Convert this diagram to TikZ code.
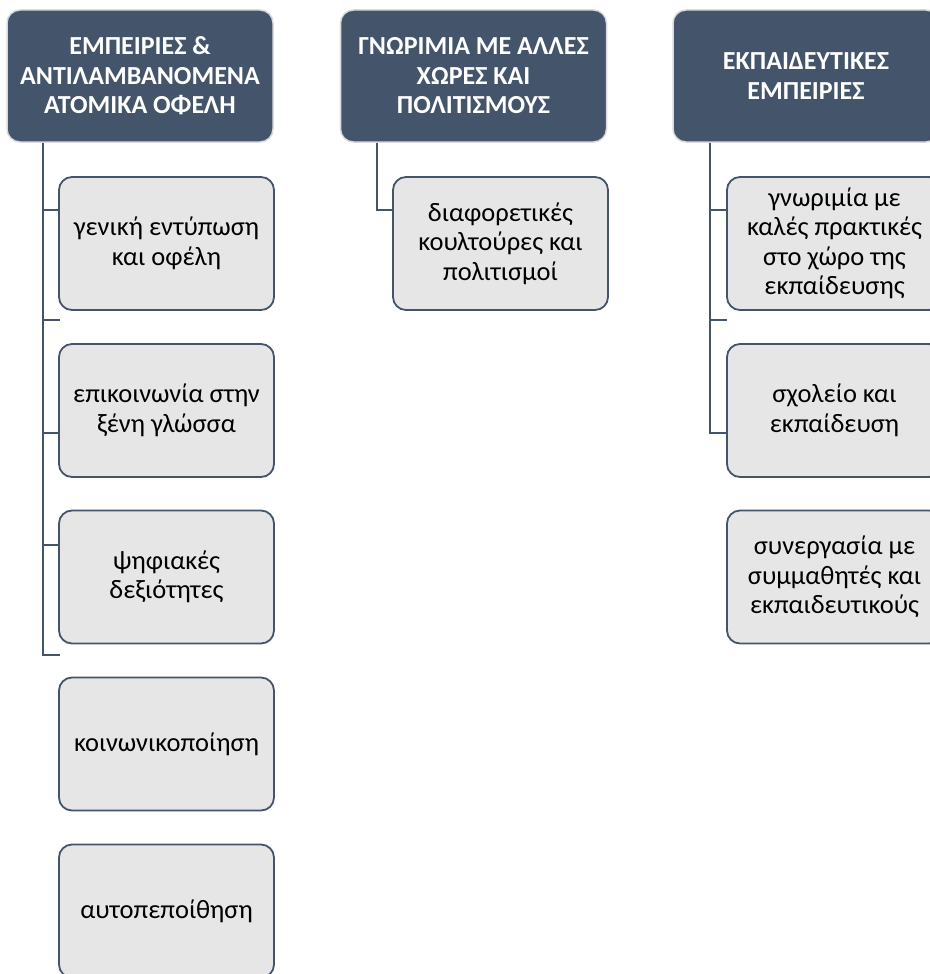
\documentclass[tikz,border=0pt]{standalone}
\usepackage{fontspec}
\setmainfont{Carlito}
\usetikzlibrary{positioning}

\definecolor{schiefer}{HTML}{44546A}
\definecolor{hellgrau}{HTML}{E7E6E6}
\definecolor{randgrau}{HTML}{DADADA}

\tikzset{
	kopf/.style={rectangle, rounded corners=13pt, fill=schiefer, draw=randgrau, line width=1.5pt,
		text=white, font=\fontsize{26}{29.5}\selectfont\bfseries, align=center,
		minimum width=266pt, minimum height=132pt, inner sep=0pt},
	eintrag/.style={rectangle, rounded corners=13pt, fill=hellgrau, draw=schiefer, line width=1.8pt,
		font=\fontsize{26.5}{29.5}\selectfont, align=center,
		minimum width=215pt, minimum height=133pt, inner sep=0pt},
	verbinder/.style={draw=schiefer, line width=2.6pt}
}

\begin{document}
\begin{tikzpicture}[x=1pt,y=-1pt]
	\useasboundingbox (0,0) rectangle (929,974);
	
	% Kopfzeilen der drei Spalten
	\node[kopf] (k1) at (140,76) {ΕΜΠΕΙΡΙΕΣ \&\\ΑΝΤΙΛΑΜΒΑΝΟΜΕΝΑ\\ΑΤΟΜΙΚΑ ΟΦΕΛΗ};
	\node[kopf] (k2) at (473.5,76) {ΓΝΩΡΙΜΙΑ ΜΕ ΑΛΛΕΣ\\ΧΩΡΕΣ ΚΑΙ\\ΠΟΛΙΤΙΣΜΟΥΣ};
	\node[kopf] (k3) at (806,76) {ΕΚΠΑΙΔΕΥΤΙΚΕΣ\\ΕΜΠΕΙΡΙΕΣ};
	
	% Erste Spalte
	\node[eintrag] (e11) at (166.5,243.5) {γενική εντύπωση\\και οφέλη};
	\node[eintrag] (e12) at (166.5,410.5) {επικοινωνία στην\\ξένη γλώσσα};
	\node[eintrag] (e13) at (166.5,577) {ψηφιακές\\δεξιότητες};
	\node[eintrag] (e14) at (166.5,744) {κοινωνικοποίηση};
	\node[eintrag] (e15) at (166.5,911) {αυτοπεποίθηση};
	
	% Zweite Spalte
	\node[eintrag] (e21) at (500.5,243.5) {διαφορετικές\\κουλτούρες και\\πολιτισμοί};
	
	% Dritte Spalte
	\node[eintrag] (e31) at (834.5,243.5) {γνωριμία με\\καλές πρακτικές\\στο χώρο της\\εκπαίδευσης};
	\node[eintrag] (e32) at (834.5,410.5) {σχολείο και\\εκπαίδευση};
	\node[eintrag] (e33) at (834.5,577) {συνεργασία με\\συμμαθητές και\\εκπαιδευτικούς};
	
	% Stamm und Abzweige der ersten Spalte
	\coordinate (s1) at (43,655);
	\draw[verbinder] (k1.south -| s1) -- (s1) -- ++(17,0);
	\foreach \y in {210,320,433,545} {
		\draw[verbinder] (43,\y) -- (60,\y);
	}
	
	% Zweite Spalte
	\coordinate (s2) at (377,210);
	\draw[verbinder] (k2.south -| s2) -- (s2) -- (s2 -| e21.west);
	
	% Dritte Spalte
	\coordinate (s3) at (710,433);
	\draw[verbinder] (k3.south -| s3) -- (s3) -- (s3 -| e32.west);
	\foreach \y in {210,320} {
		\draw[verbinder] (710,\y) -- (727,\y);
	}
\end{tikzpicture}
\end{document}
